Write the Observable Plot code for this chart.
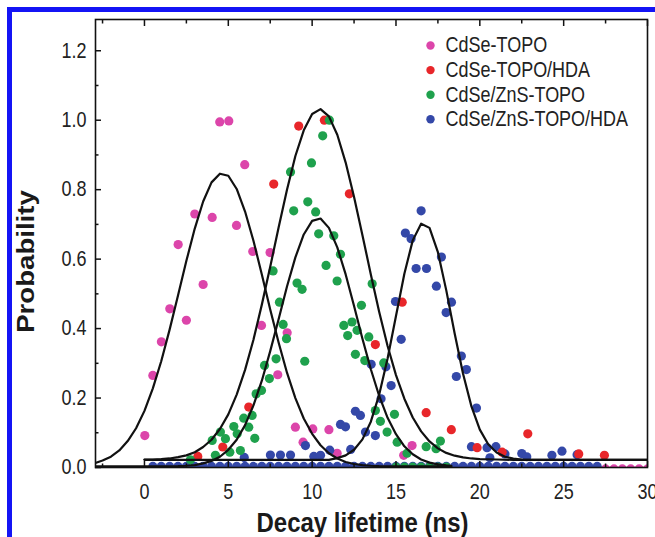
<!DOCTYPE html>
<html><head><meta charset="utf-8">
<script src="https://cdn.jsdelivr.net/npm/d3@7"></script>
<script src="https://cdn.jsdelivr.net/npm/@observablehq/plot@0.6"></script>
<style>
body{margin:0;background:#fff;}
#wrap{position:relative;width:655px;height:537px;overflow:hidden;background:#fff;}
#border{position:absolute;left:7px;top:7px;width:720px;height:620px;border-left:5px solid #1414f5;border-top:5px solid #1414f5;pointer-events:none;}
svg{display:block;}
</style></head>
<body><div id="wrap"></div>
<script>
// ---- series ----
const seriesNames = ["CdSe-TOPO", "CdSe-TOPO/HDA", "CdSe/ZnS-TOPO", "CdSe/ZnS-TOPO/HDA"];
const seriesColors = ["#dc45aa", "#e8262a", "#1fa14d", "#3448a8"];

// CdSe-TOPO (magenta)
const magX = [0.02,0.5,1.01,1.51,2.01,2.5,3.0,3.5,4.04,4.49,5.03,5.49,5.98,6.46,6.98,7.49,7.95,8.51,9.0,9.46,10.04,11.0,11.49,15.46,15.96,
  12,12.5,13,13.5,14,14.5,15,15.5,16,16.5,17,17.5,18,18.5,19,19.5,20,20.5,21,21.5,22,22.5,23,23.5,24,24.5,25,25.5,26,26.5,27,27.5,28,28.5,29,29.5,30];
const magY = [0.092,0.265,0.362,0.457,0.642,0.424,0.730,0.527,0.720,0.995,0.998,0.697,0.872,0.622,0.409,0.619,0.267,0.388,0.116,0.073,0.111,0.109,0.041,0.035,0.063,
  -0.004,-0.004,-0.004,-0.004,-0.004,-0.004,-0.004,-0.004,-0.004,-0.004,-0.004,-0.004,-0.004,-0.004,-0.004,-0.004,-0.004,-0.004,-0.004,-0.004,-0.004,-0.004,-0.004,-0.004,-0.004,-0.004,-0.004,-0.004,-0.004,-0.004,-0.004,-0.004,-0.004,-0.004,-0.004,-0.004,-0.004];

// CdSe-TOPO/HDA (red)
const redX = [3.18,4.67,6.22,7.71,9.2,10.73,12.22,13.77,15.37,16.8,18.3,19.84,21.33,22.86,25.9,27.43];
const redY = [0.032,0.059,0.174,0.816,0.983,1.0,0.788,0.354,0.476,0.158,0.109,0.057,0.044,0.097,0.039,0.035];

// CdSe/ZnS-TOPO (green)
const grnX = [2.74,4.04,4.23,4.53,4.83,5.09,5.33,5.53,5.72,5.92,6.22,6.42,6.58,6.66,6.98,7.16,7.45,7.85,7.67,8.05,8.27,8.47,8.71,8.9,9.1,9.4,9.56,9.74,9.96,10.21,10.39,10.63,10.83,11.03,11.29,11.49,11.69,11.89,12.12,12.38,12.58,12.68,12.94,13.14,13.38,13.58,13.77,14.07,14.27,14.47,14.91,15.07,15.66,16.8,17.39,17.65,
  15,15.5,16,16.5,17,17.5,18];
const grnY = [0.022,0.078,0.035,0.102,0.083,0.044,0.118,0.097,0.049,0.142,0.116,0.150,0.084,0.212,0.222,0.294,0.256,0.313,0.566,0.476,0.412,0.371,0.851,0.739,0.531,0.513,0.306,0.765,0.877,0.736,0.673,0.955,0.582,1.0,0.667,0.537,0.614,0.409,0.380,0.419,0.326,0.395,0.467,0.308,0.376,0.529,0.164,0.133,0.301,0.102,0.153,0.073,0.041,0.060,0.054,0.076,
  0.001,0.001,0.001,0.001,0.001,0.001,0.001];

// CdSe/ZnS-TOPO/HDA (blue)
const bluX = [5.95,7.51,8.11,8.71,9.6,10.1,10.5,11.05,11.69,11.99,12.3,12.58,12.88,13.18,13.52,13.77,14.11,14.4,14.71,14.97,15.31,15.56,15.9,16.2,16.5,16.82,17.41,17.71,17.99,18.31,18.6,18.9,19.2,19.5,19.8,20.43,20.6,20.96,21.5,22.5,22.8,24.3,24.9,25.8,
  0.5,1,1.5,2,2.5,3,3.5,4,4.5,5,5.5,6,6.5,7,7.5,8,8.5,9,9.5,10,10.5,11,11.5,12,12.5,13,13.5,14,14.5,15,15.5,16,16.5,17,17.5,18,18.5,19,19.5,20,20.5,21,21.5,22,22.5,23,23.5,24,24.5,25,25.5,26,26.5,27];
const bluY = [0.029,0.036,0.036,0.036,0.063,0.032,0.035,0.050,0.124,0.117,0.052,0.162,0.150,0.102,0.297,0.092,0.198,0.290,0.236,0.478,0.369,0.675,0.659,0.573,0.739,0.573,0.522,0.606,0.446,0.476,0.262,0.321,0.282,0.060,0.171,0.057,0.028,0.060,0.039,0.040,0.031,0.035,0.047,0.037,
  0.003,0.003,0.003,0.003,0.003,0.003,0.003,0.003,0.003,0.003,0.003,0.003,0.003,0.003,0.003,0.003,0.003,0.003,0.003,0.003,0.003,0.003,0.003,0.003,0.003,0.003,0.003,0.003,0.003,0.003,0.003,0.003,0.003,0.003,0.003,0.003,0.003,0.003,0.003,0.003,0.003,0.003,0.003,0.003,0.003,0.003,0.003,0.003,0.003,0.003,0.003,0.003,0.003,0.003];

// ---- fitted curves ----
const fitMagX = [-3,-2.5,-2,-1.5,-1,-0.5,0,0.5,1,1.5,2,2.5,3,3.5,4,4.5,5,5.5,6,6.5,7,7.5,8,8.5,9,9.5,10,10.5,11,11.5,12,12.5,13,13.5,14,18.3];
const fitMagY = [0.012,0.020,0.031,0.049,0.076,0.113,0.163,0.228,0.306,0.397,0.495,0.595,0.688,0.766,0.821,0.846,0.840,0.802,0.737,0.653,0.556,0.455,0.360,0.273,0.200,0.141,0.097,0.064,0.041,0.026,0.016,0.010,0.007,0.005,0.004,0.003];
const fitRedX = [0,0.5,1,1.5,2,2.5,3,3.5,4,4.5,5,5.5,6,6.5,7,7.5,8,8.5,9,9.5,10,10.5,11,11.5,12,12.5,13,13.5,14,14.5,15,15.5,16,16.5,17,17.5,18,18.5,19,19.5,20,21,22,30];
const fitRedY = [0.023,0.023,0.024,0.026,0.030,0.035,0.044,0.059,0.080,0.111,0.153,0.210,0.281,0.368,0.469,0.578,0.691,0.800,0.897,0.971,1.018,1.032,1.011,0.958,0.878,0.779,0.669,0.556,0.448,0.350,0.266,0.198,0.144,0.104,0.075,0.055,0.042,0.034,0.029,0.026,0.024,0.023,0.022,0.022];
const fitGrnX = [-3,2,2.5,3,3.5,4,4.5,5,5.5,6,6.5,7,7.5,8,8.5,9,9.5,10,10.5,11,11.5,12,12.5,13,13.5,14,14.5,15,15.5,16,16.5,17,17.5,18,18.3];
const fitGrnY = [0.003,0.004,0.005,0.007,0.012,0.019,0.031,0.051,0.080,0.122,0.179,0.250,0.335,0.427,0.521,0.605,0.671,0.710,0.717,0.690,0.634,0.556,0.465,0.371,0.283,0.206,0.143,0.096,0.061,0.038,0.023,0.014,0.009,0.006,0.005];
const fitBluX = [0,11,11.5,12,12.5,13,13.5,14,14.5,15,15.5,16,16.5,17,17.5,18,18.5,19,19.5,20,20.5,21,21.5,22,22.5,23,30];
const fitBluY = [0.022,0.022,0.027,0.035,0.051,0.081,0.132,0.210,0.314,0.436,0.558,0.654,0.702,0.690,0.620,0.510,0.386,0.270,0.176,0.109,0.067,0.043,0.031,0.026,0.023,0.022,0.022];

// ---- ticks ----
const xMajor = [0,5,10,15,20,25,30];
const xMinor = [-2.5,2.5,7.5,12.5,17.5,22.5,27.5];
const yMajor = [0,0.2,0.4,0.6,0.8,1.0,1.2];
const yMinor = [0.1,0.3,0.5,0.7,0.9,1.1];

const toPts = (xs, ys) => xs.map((x, i) => ({x, y: ys[i]}));
const pts = [toPts(magX, magY), toPts(redX, redY), toPts(grnX, grnY), toPts(bluX, bluY)];
const fits = [toPts(fitMagX, fitMagY), toPts(fitRedX, fitRedY), toPts(fitGrnX, fitGrnY), toPts(fitBluX, fitBluY)];
const drawOrder = [0, 3, 1, 2];
const noText = () => "";
const tickFont = 18;

const marks = [];
for (const i of drawOrder) {
  marks.push(Plot.dot(pts[i], {x: "x", y: "y", r: 4.6, fill: seriesColors[i], clip: true}));
}
for (const f of fits) {
  marks.push(Plot.line(f, {x: "x", y: "y", stroke: "#111", strokeWidth: 2.2, clip: true}));
}
marks.push(
  Plot.frame({stroke: "#111", strokeWidth: 1.6}),
  Plot.axisY(yMajor, {tickSize: -6, tickPadding: 15, tickFormat: d3.format(".1f"), fontSize: tickFont, label: null, stroke: "#111", strokeWidth: 1.5, fill: "#222"}),
  Plot.axisY(yMinor, {tickSize: -3.5, tickFormat: noText, label: null, stroke: "#111", strokeWidth: 1.5}),
  Plot.axisX(xMajor, {tickSize: -6, tickPadding: 22, fontSize: tickFont, label: null, stroke: "#111", strokeWidth: 1.5, fill: "#222"}),
  Plot.axisX(xMinor, {tickSize: -3.5, tickFormat: noText, label: null, stroke: "#111", strokeWidth: 1.5}),
  Plot.axisX(xMajor, {anchor: "top", tickSize: -6, tickFormat: noText, label: null, stroke: "#111", strokeWidth: 1.5}),
  Plot.axisX(xMinor, {anchor: "top", tickSize: -3.5, tickFormat: noText, label: null, stroke: "#111", strokeWidth: 1.5}),
  Plot.text(["Decay lifetime (ns)"], {frameAnchor: "bottom", dx: -9, dy: 55, lineAnchor: "middle", fontSize: 24, fontWeight: "bold", fill: "#1a1a1a"}),
  Plot.text(["Probability"], {frameAnchor: "left", dx: -69, dy: 18, rotate: -90, textAnchor: "middle", lineAnchor: "middle", fontSize: 23, fontWeight: "bold", fill: "#1a1a1a"})
);
seriesNames.forEach((name, i) => {
  marks.push(
    Plot.dot([name], {frameAnchor: "top-left", dx: 335, dy: 26 + i * 24.6, r: 4.2, fill: seriesColors[i]}),
    Plot.text([name], {frameAnchor: "top-left", dx: 350, dy: 26 + i * 24.6, text: d => d, textAnchor: "start", lineAnchor: "middle", fontSize: 18, fill: "#222"})
  );
});

const chart = Plot.plot({
  width: 655,
  height: 537,
  marginLeft: 95,
  marginRight: 8,
  marginTop: 19,
  marginBottom: 70,
  style: {fontFamily: "'Liberation Sans', Arial, sans-serif", background: "#fff", overflow: "visible"},
  x: {domain: [-2.92, 30]},
  y: {domain: [0, 1.29]},
  marks
});
// the reference's lettering is drawn slightly taller than wide
chart.querySelectorAll("text").forEach(t => {
  const tr = t.getAttribute("transform");
  if (!tr) return;
  t.setAttribute("transform", tr.includes("rotate") ? tr + " scale(1.2,1)" : tr + " scale(1,1.18)");
});
const wrap = document.getElementById("wrap");
wrap.appendChild(chart);
const border = document.createElement("div");
border.id = "border";
wrap.appendChild(border);
</script>
</body></html>
